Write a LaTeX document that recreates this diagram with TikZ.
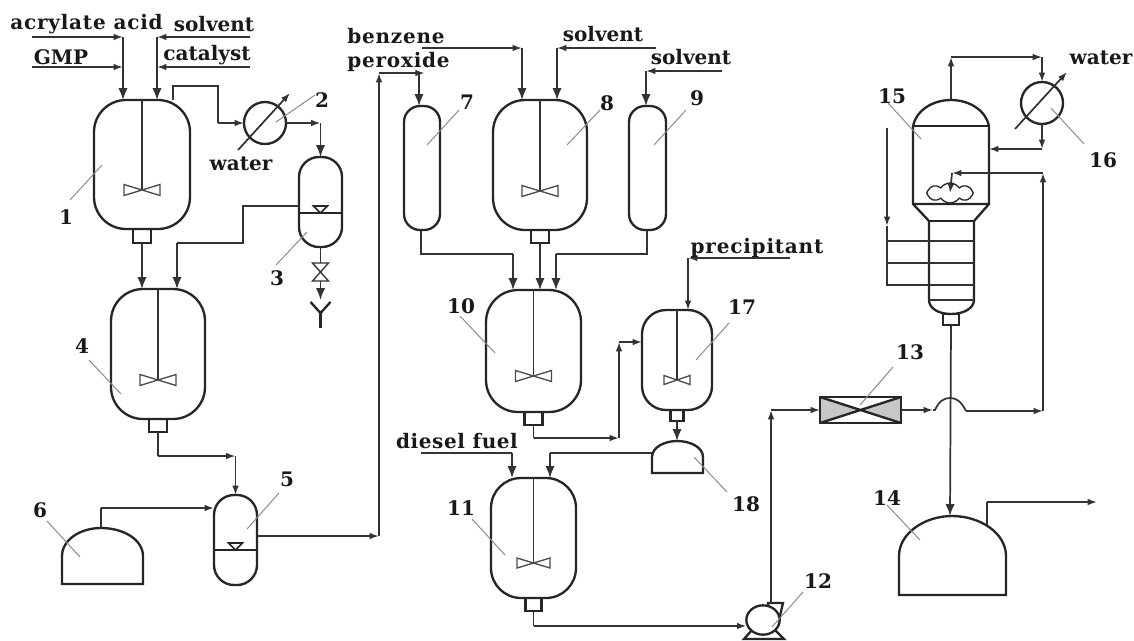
\documentclass[tikz,border=0pt]{standalone}
\usepackage{fontspec}
\setmainfont{DejaVu Serif}
\usetikzlibrary{arrows.meta,shapes.geometric,shapes.symbols}
\tikzset{
  vline/.style={line width=1.75pt,draw=black!85},
  vessel/.style={vline,rectangle,inner sep=0pt,outer sep=0pt},
  pipe/.style={line width=1.3pt,draw=black!80},
  arr/.style={-{Latex[length=7pt,width=5pt]}},
  big/.style={-{Latex[length=9pt,width=7pt]}},
  lead/.style={line width=.75pt,draw=black!45},
  imp/.style={line width=1pt,draw=black!70},
  txt/.style={font=\bfseries\fontsize{15}{17}\selectfont,text=black!90,inner sep=0pt},
  cond/.style={vline,circle,inner sep=0pt,outer sep=0pt,minimum size=31.5pt}
}
\newcommand{\spaced}[2]{{\addfontfeature{LetterSpace=#1}#2}}
% name, left, top, right, bottom, corner radius
\newcommand{\vesselat}[6]{%
  \node[vessel,rounded corners=0.75pt*#6,minimum width={0.75pt*(#4-#2)},minimum height={0.75pt*(#5-#3)}]
    (#1) at ({(#2+#4)/2},{(#3+#5)/2}) {};}
% vessel name, impeller y, half width, half height
\newcommand{\agitator}[4]{%
  \coordinate (#1imp) at (#1.north |- 0,#2);
  \draw[pipe] (#1.north) -- (#1imp);
  \draw[imp] ([shift={(-#3,-#4)}]#1imp) -- ([shift={(#3,#4)}]#1imp) -- ([shift={(#3,-#4)}]#1imp) -- ([shift={(-#3,#4)}]#1imp) -- cycle;}
% vessel name, half width, height
\newcommand{\bottomnozzle}[3]{%
  \node[vessel,minimum width={1.5pt*#2},minimum height={0.75pt*#3},anchor=north] (#1n) at (#1.south) {};}
% level line and marker on a vessel: name, y
\newcommand{\levelmark}[2]{%
  \draw[vline] (#1.west |- 0,#2) -- (#1.east |- 0,#2);
  \coordinate (#1lv) at (#1.north |- 0,#2);
  \draw[line width=1.2pt,draw=black!85] ([shift={(-7,-7)}]#1lv) -- ([shift={(7,-7)}]#1lv) -- (#1lv) -- cycle;}
\begin{document}
\begin{tikzpicture}[x=0.75pt,y=-0.75pt]
\useasboundingbox[fill=white] (0,0) rectangle (1134,640);

% ---------- vessels
\vesselat{v1}{94}{100}{190}{229}{32}
\vesselat{v3}{299}{157}{342}{247}{20}
\vesselat{v4}{111}{289}{205}{419}{32}
\vesselat{v5}{214}{495}{257}{585}{20}
\vesselat{v7}{404}{106}{440}{230}{16}
\vesselat{v8}{493}{100}{587}{230}{32}
\vesselat{v9}{629}{106}{666}{230}{16}
\vesselat{v10}{486}{290}{581}{412}{32}
\vesselat{v11}{491}{478}{576}{598}{30}
\vesselat{v17}{642}{310}{712}{410}{24}

\agitator{v1}{190}{18}{5.5}
\agitator{v4}{380}{18}{5.5}
\agitator{v8}{191}{18}{5.5}
\agitator{v10}{376}{18}{5.5}
\agitator{v11}{563}{16.5}{5}
\agitator{v17}{380}{13}{4.5}
\bottomnozzle{v1}{9}{14}
\bottomnozzle{v4}{9}{13}
\bottomnozzle{v8}{9}{13}
\bottomnozzle{v10}{9}{13}
\bottomnozzle{v11}{8}{13}
\bottomnozzle{v17}{6.5}{11}
\levelmark{v3}{213}
\levelmark{v5}{550}

% ---------- domed tanks
\draw[vline] (62,584) -- (62,556) .. controls (62,540) and (80,528) .. (101,528) .. controls (124,528) and (143,540) .. (143,556) -- (143,584) -- cycle;
\coordinate (v6top) at (101,528);
\draw[vline] (899,595) -- (899,556) .. controls (899,533) and (925,516) .. (952,516) .. controls (980,516) and (1006,533) .. (1006,556) -- (1006,595) -- cycle;
\coordinate (v14top) at (950,516);
\draw[vline] (652,473) -- (652,457) .. controls (652,447) and (665,441) .. (677,441) .. controls (690,441) and (703,447) .. (703,457) -- (703,473) -- cycle;
\coordinate (v18top) at (677,441);
\coordinate (v18left) at (652,453);

% ---------- condensers
\node[cond] (c2) at (265,123) {};
\node[cond] (c16) at (1042,103) {};
\draw[pipe,arr] (238,150) -- (290,93);
\draw[pipe,arr] (1015,129) -- (1067,72);

% ---------- column 15
\draw[vline] (913,204) -- (913,126) .. controls (916,111) and (932,100) .. (951,100) .. controls (970,100) and (986,111) .. (989,126) -- (989,204) -- cycle;
\draw[vline] (913,126) -- (989,126);
\draw[vline] (913,204) -- (929,221) -- (929,300) .. controls (929,308) and (938,314) .. (951,314) .. controls (964,314) and (974,308) .. (974,300) -- (974,221) -- (989,204);
\draw[vline] (929,221) -- (974,221);
\draw[pipe] (929,300) -- (974,300);
\node[vessel,minimum width=12pt,minimum height=8pt,anchor=north] (c15n) at (951,314) {};
\coordinate (c15top) at (951,100);
\node[draw=black!85,line width=1pt,cloud,cloud puffs=8,cloud puff arc=110,aspect=2.4,inner sep=0pt,outer sep=0pt,minimum width=35pt,minimum height=15pt] (foam) at (950,193) {};

% ---------- filter 13
\node[vessel,minimum width=60.75pt,minimum height=19.5pt] (f13) at (860.5,410) {};
\fill[black!22] (f13.north west) -- (f13.center) -- (f13.south west) -- cycle;
\fill[black!22] (f13.north east) -- (f13.center) -- (f13.south east) -- cycle;
\draw[vline] (f13.north west) rectangle (f13.south east);
\draw[vline] (f13.north west) -- (f13.south east);
\draw[vline] (f13.south west) -- (f13.north east);

% ---------- pump 12
\draw[vline] (768,612) -- (768,603) -- (783,603) -- (779,620);
\draw[vline] (752,630) -- (744,639) -- (784,639) -- (775,630);
\node[vline,fill=white,ellipse,inner sep=0pt,outer sep=0pt,minimum width=25pt,minimum height=22pt] (p12) at (763,620) {};
\coordinate (p12out) at (771,603);

% ---------- feeds to 1
\coordinate (a1) at (32,37); \coordinate (a2) at (123,37);
\coordinate (a3) at (32,67); \coordinate (a4) at (123,67);
\coordinate (a5) at (250,37); \coordinate (a6) at (157,37);
\coordinate (a7) at (250,67); \coordinate (a8) at (157,67);
\draw[pipe,arr] (a1) -- (a2);
\draw[pipe,arr] (a3) -- (a4);
\draw[pipe,arr] (a5) -- (a6);
\draw[pipe,arr] (a7) -- (a8);
\draw[pipe,big] (a2) -- (a2 |- v1.north);
\draw[pipe,big] (a6) -- (a6 |- v1.north);

% ---------- 1 -> 2 -> 3
\coordinate (b1) at (173,86); \coordinate (b2) at (218,86); \coordinate (b3) at (218,123);
\draw[pipe] (b1 |- v1.north) -- (b1) -- (b2) -- (b3);
\draw[pipe,arr] (b3) -- (c2.west);
\coordinate (b4) at (v3.north |- c2.east);
\draw[pipe,arr] (c2.east) -- (b4);
\draw[pipe,big] (b4) -- (v3.north);

% ---------- 3 -> 4, drain
\coordinate (d1) at (243,206); \coordinate (d2) at (243,243); \coordinate (d3) at (177,243);
\draw[pipe] (v3.west |- d1) -- (d1) -- (d2) -- (d3);
\draw[pipe,big] (d3) -- (d3 |- v4.north);
\draw[pipe,big] (v1n.south) -- (v1n.south |- v4.north);
\coordinate (vt) at (v3.south |- 0,263); \coordinate (vb) at (v3.south |- 0,281);
\draw[pipe] (v3.south) -- (vt);
\draw[line width=1pt,draw=black!80] ([xshift=-6]vt) -- ([xshift=6]vt) -- ([xshift=-6]vb) -- ([xshift=6]vb) -- cycle;
\coordinate (yj) at (v3.south |- 0,313);
\draw[pipe,big] (vb) -- (v3.south |- 0,300);
\draw[vline] (yj) ++(-10,-11) -- (yj) -- ++(10,-11);
\draw[vline] (yj) -- ++(0,15);

% ---------- 4 -> 5, 6 -> 5, 5 -> 7
\coordinate (e1) at (v4n.south |- 0,456); \coordinate (e2) at (v5.north |- e1);
\draw[pipe] (v4n.south) -- (e1);
\draw[pipe,arr] (e1) -- (e2);
\draw[pipe,arr] (e2) -- (v5.north);
\coordinate (e3) at (v6top |- 0,508);
\draw[pipe] (v6top) -- (e3);
\draw[pipe,arr] (e3) -- (v5.west |- e3);
\coordinate (e4) at (379,536); \coordinate (e5) at (379,73); \coordinate (e6) at (v7.north |- e5);
\draw[pipe,arr] (v5.east |- e4) -- (e4);
\draw[pipe,arr] (e4) -- (e5);
\draw[pipe,arr] (e5) -- ([xshift=2]e6);
\coordinate (e7) at (419,73);
\draw[pipe,big] (e7) -- (e7 |- v7.north);

% ---------- feeds to 8, 9
\coordinate (g1) at (422,48); \coordinate (g2) at (522,48);
\coordinate (g3) at (656,48); \coordinate (g4) at (557,48);
\coordinate (g5) at (722,71); \coordinate (g6) at (646,71);
\draw[pipe,arr] (g1) -- (g2);
\draw[pipe,big] (g2) -- (g2 |- v8.north);
\draw[pipe,arr] (g3) -- (g4);
\draw[pipe,big] (g4) -- (g4 |- v8.north);
\draw[pipe,arr] (g5) -- (g6);
\draw[pipe,big] (g6) -- (g6 |- v9.north);

% ---------- 7, 8, 9 -> 10
\coordinate (h1) at (421,254); \coordinate (h2) at (513,254);
\coordinate (h3) at (647,254); \coordinate (h4) at (556,254);
\draw[pipe] (h1 |- v7.south) -- (h1) -- (h2);
\draw[pipe,big] (h2) -- (h2 |- v10.north);
\draw[pipe] (h3 |- v9.south) -- (h3) -- (h4);
\draw[pipe,big] (h4) -- (h4 |- v10.north);
\draw[pipe,big] (v8n.south) -- (v8n.south |- v10.north);

% ---------- 10 -> 17 -> 18 -> 11
\coordinate (k1) at (v10n.south |- 0,438); \coordinate (k2) at (619,438); \coordinate (k3) at (619,342);
\draw[pipe] (v10n.south) -- (k1);
\draw[pipe,arr] (k1) -- (k2);
\draw[pipe,arr] (k2) -- (k3);
\draw[pipe,arr] (k3) -- (v17.west |- k3);
\coordinate (k4) at (790,258); \coordinate (k5) at (688,258);
\draw[pipe,arr] (k4) -- (k5);
\draw[pipe,arr] (k5) -- (k5 |- v17.north);
\draw[pipe,big] (v17n.south) -- (v18top);
\coordinate (k6) at (550,453);
\draw[pipe] (v18left) -- (k6);
\draw[pipe,big] (k6) -- (k6 |- v11.north);
\coordinate (k7) at (421,453); \coordinate (k8) at (512,453);
\draw[pipe] (k7) -- (k8);
\draw[pipe,big] (k8) -- (k8 |- v11.north);

% ---------- 11 -> 12 -> 13 -> ...
\coordinate (m1) at (v11n.south |- 0,626);
\draw[pipe] (v11n.south) -- (m1);
\draw[pipe,arr] (m1) -- (p12.west |- m1);
\coordinate (m2) at (p12out |- f13.west);
\draw[pipe,arr] (p12out) -- (m2);
\draw[pipe,arr] (m2) -- (f13.west);
\coordinate (m3) at (933,410); \coordinate (m4) at (966,411); \coordinate (m5) at (1043,411); \coordinate (m6) at (1043,173); \coordinate (m7) at (952,173);
\draw[pipe,arr] (f13.east) -- (m3);
\draw[pipe] (m3) -- (935,410) .. controls (939,401) and (944,398) .. (950,398) .. controls (956,398) and (961,401) .. (966,411);
\draw[pipe,arr] (m4) -- (m5);
\draw[pipe,arr] (m5) -- (m6);
\draw[pipe,arr] (m6) -- (m7);
\draw[pipe,arr] (m7) -- (foam.center);

% ---------- column connections
\coordinate (n1) at (c15top |- 0,57); \coordinate (n2) at (c16.north |- n1);
\draw[pipe,arr] (c15top) -- (n1);
\draw[pipe,arr] (n1) -- (n2);
\draw[pipe,arr] (n2) -- (c16.north);
\coordinate (n3) at (c16.south |- 0,149);
\draw[pipe,arr] (c16.south) -- (n3);
\draw[pipe,arr] (n3) -- (n3 -| 989,0);
\draw[pipe,big] (c15n.south) -- (v14top);
\coordinate (n4) at (987,525); \coordinate (n5) at (987,502); \coordinate (n6) at (1097,502);
\draw[pipe] (n4) -- (n5);
\draw[pipe,arr] (n5) -- (n6);
% cooling coil
\coordinate (q1) at (887,128); \coordinate (q2) at (887,226); \coordinate (q3) at (887,285);
\draw[pipe,arr] (q1) -- (q2);
\draw[pipe] (q2) -- (q3) -- (974,285);
\draw[pipe] (887,263) -- (974,263);
\draw[pipe] (887,241) -- (974,241);

% ---------- texts
\node[txt] (t1) at (86.5,24) {\spaced{4}{acrylate acid}};
\node[txt] (t2) at (214,24) {solvent};
\node[txt] (t3) at (61,57) {GMP};
\node[txt] (t4) at (207,55) {catalyst};
\node[txt] (t5) at (241,164) {water};
\node[txt,anchor=west] (t6) at (347,36) {\spaced{4}{benzene}};
\node[txt,anchor=west] (t7) at (347,62) {\spaced{4}{peroxide}};
\node[txt] (t8) at (603,34) {solvent};
\node[txt] (t9) at (691,57) {solvent};
\node[txt] (t10) at (757,248) {\spaced{4}{precipitant}};
\node[txt] (t11) at (457,441) {\spaced{3}{diesel fuel}};
\node[txt] (t12) at (1101,58) {water};

% ---------- item numbers
\node[txt] (n01) at (66,217) {1};
\node[txt] (n02) at (322,100) {2};
\node[txt] (n03) at (277,278) {3};
\node[txt] (n04) at (82,346) {4};
\node[txt] (n05) at (287,479) {5};
\node[txt] (n06) at (40,510) {6};
\node[txt] (n07) at (467,102) {7};
\node[txt] (n08) at (607,103) {8};
\node[txt] (n09) at (697,98) {9};
\node[txt] (n10) at (461,306) {10};
\node[txt] (n11) at (461,508) {11};
\node[txt] (n12) at (818,581) {12};
\node[txt] (n13) at (910,352) {13};
\node[txt] (n14) at (887,498) {14};
\node[txt] (n15) at (892,96) {15};
\node[txt] (n16) at (1103,160) {16};
\node[txt] (n17) at (742,307) {17};
\node[txt] (n18) at (746,504) {18};

% ---------- leaders
\draw[lead] (70,200) -- (102,165);
\draw[lead] (276,122) -- (315,95);
\draw[lead] (276,265) -- (307,232);
\draw[lead] (89,360) -- (121,394);
\draw[lead] (279,493) -- (247,529);
\draw[lead] (47,521) -- (80,557);
\draw[lead] (427,145) -- (459,110);
\draw[lead] (567,145) -- (600,110);
\draw[lead] (654,145) -- (686,110);
\draw[lead] (460,316) -- (495,353);
\draw[lead] (472,519) -- (505,555);
\draw[lead] (772,627) -- (803,592);
\draw[lead] (860,405) -- (893,367);
\draw[lead] (887,505) -- (920,540);
\draw[lead] (888,103) -- (921,139);
\draw[lead] (1051,108) -- (1084,144);
\draw[lead] (696,360) -- (729,323);
\draw[lead] (694,457) -- (727,492);
\end{tikzpicture}
\end{document}
